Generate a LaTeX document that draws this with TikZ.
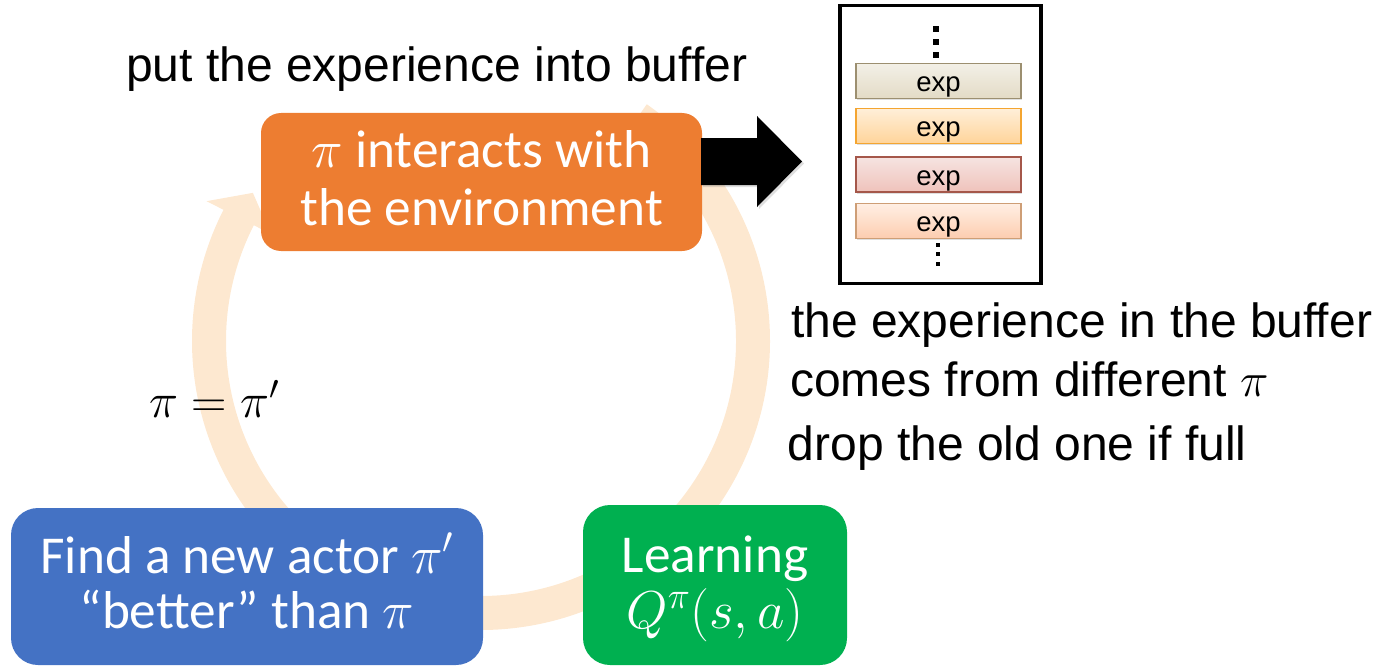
\RequirePackage{fix-cm}
\documentclass[tikz,border=0pt]{standalone}
\usepackage{fontspec}
\setmainfont{Liberation Sans}
\newfontfamily\calibrifont{Carlito}
\usetikzlibrary{shadows}
\definecolor{ringc}{RGB}{253,232,208}
\definecolor{envc}{RGB}{237,125,49}
\definecolor{findc}{RGB}{68,114,196}
\definecolor{learnc}{RGB}{0,176,80}
\definecolor{eAtop}{RGB}{243,240,231}
\definecolor{eAbot}{RGB}{227,219,198}
\definecolor{eAdr}{RGB}{156,143,112}
\definecolor{eBtop}{RGB}{255,239,217}
\definecolor{eBbot}{RGB}{255,212,154}
\definecolor{eBdr}{RGB}{244,165,48}
\definecolor{eCtop}{RGB}{246,228,225}
\definecolor{eCbot}{RGB}{239,194,187}
\definecolor{eCdr}{RGB}{165,87,74}
\definecolor{eDtop}{RGB}{255,239,228}
\definecolor{eDbot}{RGB}{253,205,176}
\definecolor{eDdr}{RGB}{206,158,118}
\tikzset{
  cyclebox/.style={rectangle, inner sep=0pt, draw=none},
  boxtxt/.style={font=\calibrifont\fontsize{53.3}{64}\selectfont, text=white, inner sep=0pt, anchor=base},
  firstline/.style={text depth=0pt},
  sidetxt/.style={font=\fontsize{48}{57.6}\selectfont, inner sep=0pt, anchor=base west},
  expbox/.style={rectangle, inner sep=0pt, minimum width=165pt, minimum height=35pt,
    line width=1.3pt, font=\fontsize{27.5}{30}\selectfont, text height=24pt, text depth=2pt,
    drop shadow={shadow xshift=1pt, shadow yshift=-1.5pt, opacity=0.25}},
  ringarrow/.style={fill=ringc}
}
\begin{document}
\begin{tikzpicture}[x=1pt,y=-1pt]
\useasboundingbox (0,0) rectangle (1380,666);

% circular arrows
\begin{scope}[shift={(481,341)}, yscale=-1]
  \fill[ringarrow] (225:289) arc[start angle=225, end angle=153, radius=289]
     -- (153:308) -- (147:272) -- (153:236) -- (153:255)
     arc[start angle=153, end angle=225, radius=255] -- cycle;
  \fill[ringarrow] (55:289) arc[start angle=55, end angle=-50, radius=289]
     -- (-50:308) -- (-56:272) -- (-50:236) -- (-50:255)
     arc[start angle=-50, end angle=55, radius=255] -- cycle;
  \fill[ringarrow] (-65:289) arc[start angle=-65, end angle=-98, radius=289]
     -- (-98:308) -- (-104:272) -- (-98:236) -- (-98:255)
     arc[start angle=-98, end angle=-65, radius=255] -- cycle;
\end{scope}

% cycle boxes
\node[cyclebox, fill=envc, minimum width=441pt, minimum height=138pt, rounded corners=20pt] (env) at (481.5,182) {};
\node[cyclebox, fill=findc, minimum width=472pt, minimum height=157pt, rounded corners=27pt] (find) at (247,586.5) {};
\node[cyclebox, fill=learnc, minimum width=264pt, minimum height=160pt, rounded corners=27pt] (learn) at (715,585) {};

\node[boxtxt, firstline] (envA) at (481.5,167) {$\pi$ interacts with};
\node[boxtxt] (envB) at (481.5,225) {the environment};
\node[boxtxt, firstline] (findA) at (247,573) {Find a new actor $\pi'$};
\node[boxtxt] (findB) at (247,628) {“better” than $\pi$};
\node[boxtxt, firstline] (learnA) at (715,572) {Learning};
\node[boxtxt] (learnB) at (715,628) {$Q^{\pi}(s,a)$};

% black block arrow
\coordinate (arrS) at (701,161.5);
\fill[black, drop shadow={shadow xshift=2pt, shadow yshift=-2pt, opacity=0.25}]
  ([yshift=23.5pt]arrS) -- (757,138) -- (757,116) -- (802,161.5) -- (757,207) -- (757,185) -- ([yshift=-23.5pt]arrS) -- cycle;

% buffer
\node[rectangle, draw, line width=3.5pt, minimum width=201pt, minimum height=278pt, inner sep=0pt] (buffer) at (940.5,144.5) {};
\node[expbox, draw=eAdr, top color=eAtop, bottom color=eAbot] (exp1) at (938.5,80.8) {exp};
\node[expbox, draw=eBdr, top color=eBtop, bottom color=eBbot] (exp2) at (938.5,125.8) {exp};
\node[expbox, draw=eCdr, top color=eCtop, bottom color=eCbot] (exp3) at (938.5,174.5) {exp};
\node[expbox, draw=eDdr, top color=eDtop, bottom color=eDbot] (exp4) at (938.5,220.8) {exp};
\fill (933.3,26) rectangle +(6,6);
\fill (933.3,39.2) rectangle +(6,6);
\fill (933.3,51.7) rectangle +(6,6);
\fill (936,242.5) rectangle +(4,4);
\fill (936,252.2) rectangle +(4,4);
\fill (936,261.7) rectangle +(4,4);

% side texts
\node[sidetxt] (put) at (126,82) {put the experience into buffer};
\node[sidetxt] (diffA) at (791,337) {the experience in the buffer};
\node[sidetxt] (diffB) at (790,396) {comes from different $\pi$};
\node[sidetxt] (drop) at (787.5,460) {drop the old one if full};
\node[inner sep=0pt, anchor=base, font=\fontsize{49}{54}\selectfont] (update) at (214.5,417) {$\pi=\pi'$};
\end{tikzpicture}
\end{document}
